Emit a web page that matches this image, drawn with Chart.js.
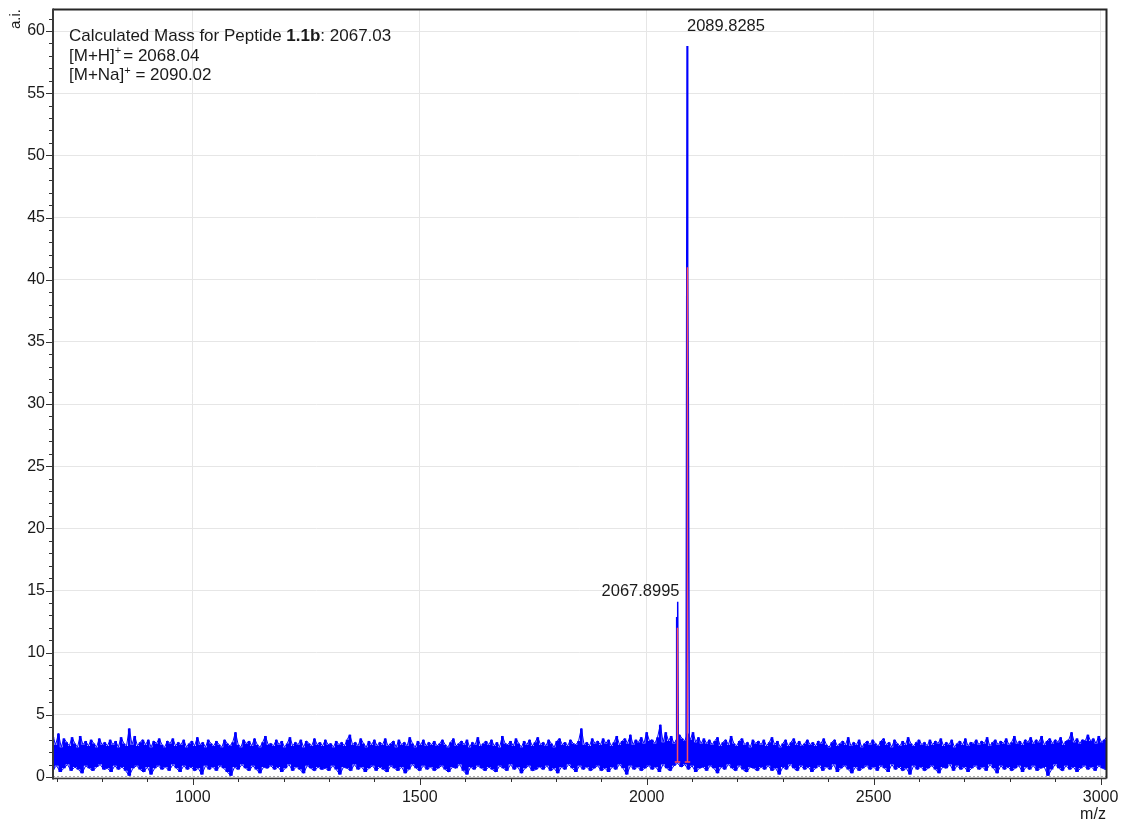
<!DOCTYPE html>
<html>
<head>
<meta charset="utf-8">
<title>MALDI-TOF spectrum – Peptide 1.1b</title>
<script src="https://cdn.jsdelivr.net/npm/chart.js@4.4.1/dist/chart.umd.min.js"></script>
<style>
  html, body { margin: 0; padding: 0; background: #ffffff; }
  #wrap { width: 1127px; height: 829px; }
</style>
</head>
<body>
<div id="wrap"><canvas id="spectrum" width="1127" height="829"></canvas></div>
<script>
// ---- spectrum range (m/z) ----
const mzMin = 692;
const mzMax = 3013;

// ---- baseline noise: upper and lower envelope of the trace, sampled every few m/z ----
const noiseStart = 692;
const upperStep = 6;
const noiseUpper = [
  3.2,2.6,3.5,2.4,3.1,2.8,2.5,3.2,2.7,2.4,3.3,2.6,2.9,2.5,3.0,2.7,2.4,3.1,2.6,2.8,
  2.5,3.0,2.6,2.9,2.4,3.2,2.7,2.5,3.9,2.6,3.3,2.5,2.8,3.0,2.6,3.0,2.4,2.9,2.7,3.1,
  2.6,2.4,2.9,2.7,3.1,2.5,2.8,2.6,3.0,2.4,2.7,2.9,2.5,3.2,2.6,2.8,2.4,3.0,2.7,2.5,
  2.9,2.6,2.4,3.0,2.7,2.5,2.8,3.6,2.6,2.4,3.0,2.7,2.9,2.5,3.1,2.6,2.4,2.8,3.3,2.6,
  2.7,2.5,3.0,2.6,2.9,2.4,2.7,3.2,2.5,2.8,2.6,3.0,2.4,2.9,2.7,2.5,3.1,2.6,2.8,2.5,
  3.0,2.6,2.7,2.4,2.9,2.6,2.8,2.5,3.0,3.4,2.6,2.8,2.5,3.1,2.7,2.4,2.9,2.6,3.0,2.5,
  2.8,2.6,3.1,2.5,2.7,2.9,2.4,3.0,2.6,2.8,2.5,3.2,2.7,2.4,2.9,2.6,3.0,2.5,2.8,2.6,
  2.9,2.5,2.7,3.0,2.6,2.4,2.8,3.1,2.5,2.7,2.9,2.6,3.0,2.4,2.8,2.6,3.2,2.5,2.7,2.9,
  2.6,3.0,2.5,2.8,2.4,3.3,2.7,2.6,2.9,2.5,3.1,2.7,2.4,2.9,2.6,3.0,2.5,2.8,3.2,2.6,
  2.8,2.5,3.0,2.7,2.4,2.9,3.1,2.6,2.8,2.5,3.0,2.7,2.6,2.9,3.9,2.6,2.8,2.5,3.1,2.7,
  2.9,2.6,3.1,2.7,3.0,2.5,2.8,3.3,2.6,2.9,3.1,2.7,3.4,2.6,3.0,2.8,3.2,2.7,3.6,2.9,
  3.0,2.7,3.2,4.2,2.8,3.6,2.9,3.3,2.7,3.0,3.4,3.1,2.9,3.5,3.0,3.6,2.8,3.2,2.7,3.1,
  2.7,3.0,2.6,2.9,3.2,2.5,2.8,3.0,2.6,3.3,2.7,2.5,2.9,3.1,2.6,2.8,2.4,3.0,2.7,2.9,
  2.6,3.0,2.5,2.8,3.2,2.6,2.9,2.4,2.7,3.0,2.5,2.8,3.1,2.6,2.9,2.5,2.7,3.0,2.6,2.8,
  2.5,2.9,2.7,3.1,2.6,2.4,2.8,3.0,2.5,2.7,2.9,2.6,3.2,2.5,2.8,2.6,3.0,2.4,2.7,2.9,
  2.6,3.0,2.7,2.5,2.9,3.1,2.6,2.8,2.4,3.0,2.7,2.5,2.9,2.6,3.2,2.7,2.5,2.8,3.0,2.6,
  2.8,2.5,3.0,2.6,2.9,2.7,3.1,2.5,2.8,2.6,3.0,2.4,2.7,2.9,2.6,3.1,2.5,2.8,2.7,3.0,
  2.6,2.9,2.7,3.2,2.5,2.8,3.0,2.6,2.9,2.7,3.1,2.6,2.8,3.3,2.7,2.9,2.6,3.0,2.8,3.2,
  2.7,3.0,2.8,3.3,2.6,2.9,3.1,2.7,3.0,2.8,3.2,2.6,2.9,3.0,3.6,2.8,3.1,2.7,3.0,2.9,
  3.4,2.9,3.1,2.7,3.3,2.8,3.0,3.2
];
const lowerStep = 8;
const noiseLower = [
  0.6,0.9,0.4,0.7,1.0,0.5,0.8,0.6,0.3,0.9,0.7,0.5,0.8,1.0,0.6,
  0.7,0.4,0.9,0.6,0.8,0.5,0.1,0.7,0.9,0.6,0.4,0.8,0.2,0.7,0.9,
  0.6,0.8,0.5,1.0,0.7,0.4,0.9,0.6,0.8,0.5,0.7,0.2,0.9,0.6,0.8,
  0.5,0.9,0.7,0.4,0.1,0.8,0.6,1.0,0.7,0.5,0.9,0.6,0.3,0.8,0.7,
  0.9,0.6,0.8,0.4,0.7,1.0,0.5,0.8,0.6,0.3,0.9,0.7,0.5,0.8,0.6,
  0.7,0.5,0.9,0.6,0.2,0.8,0.7,0.5,1.0,0.6,0.8,0.4,0.7,0.9,0.5,
  0.8,0.6,0.4,0.9,0.7,0.5,0.8,0.3,0.6,1.0,0.7,0.5,0.9,0.6,0.8,
  0.5,0.7,0.9,0.6,0.4,0.8,0.7,1.0,0.5,0.2,0.8,0.6,0.9,0.7,0.5,
  0.8,0.6,0.4,0.9,0.7,0.5,1.0,0.6,0.8,0.3,0.7,0.9,0.5,0.6,0.8,
  0.6,0.9,0.5,0.7,0.3,0.8,0.6,1.0,0.7,0.4,0.9,0.6,0.8,0.5,0.7,
  0.9,0.5,0.7,0.4,0.8,0.6,1.0,0.7,0.2,0.9,0.6,0.8,0.5,0.7,0.9,
  0.6,0.8,0.4,1.0,0.7,0.5,0.9,1.1,0.8,1.0,0.6,0.9,0.4,0.7,0.8,
  0.5,0.9,0.7,0.3,0.8,0.6,1.0,0.7,0.5,0.9,0.6,0.4,0.8,0.7,0.5,
  0.8,0.6,0.9,0.5,0.7,0.2,0.8,0.6,1.0,0.7,0.5,0.9,0.6,0.8,0.4,
  0.7,0.9,0.5,0.8,0.6,1.0,0.4,0.7,0.9,0.6,0.3,0.8,0.5,0.7,0.9,
  0.6,0.8,0.5,0.9,0.7,0.4,1.0,0.6,0.8,0.5,0.7,0.2,0.9,0.6,0.8,
  0.5,0.7,0.9,0.6,0.3,0.8,0.7,1.0,0.5,0.9,0.6,0.8,0.4,0.7,0.9,
  0.6,0.8,0.5,1.0,0.7,0.3,0.9,0.6,0.8,0.5,0.7,0.9,0.4,0.8,0.6,
  0.9,0.5,0.7,0.8,0.1,0.6,1.0,0.7,0.5,0.9,0.6,0.8,0.4,0.7,0.9,
  0.6,0.8,0.5,0.9,0.7,0.6
];

// ---- [M+H]+ peak profile ----
const peakHMz  = [2065.0, 2066.0, 2066.9, 2067.8995, 2068.7, 2069.8];
const peakHInt = [1.6, 12.8, 12.8, 14.1, 14.1, 1.4];

// ---- [M+Na]+ peak profile ----
const peakNaMz  = [2086.8, 2088.9, 2089.8285, 2090.8, 2091.6, 2092.8, 2093.8];
const peakNaInt = [1.8, 58.8, 58.8, 41.0, 31.7, 31.7, 1.5];

// ---- picked peaks (labels and centroid markers) ----
const pickedMz     = [2067.8995, 2089.8285];
const pickedInt    = [14.1, 58.8];
const centroidTop  = [12.0, 41.0];
const centroidBase = 1.2;
const capHalfWidth = 6;

// ---- axes ----
const xMajorTicks = [1000, 1500, 2000, 2500, 3000];
const yMajorTicks = [0, 5, 10, 15, 20, 25, 30, 35, 40, 45, 50, 55, 60];
const xMinorStep = 100;
const yMinorStep = 1;
const yMax = 61.73;

// ---- header text ----
const compoundName = '1.1b';
const calcMass = '2067.03';
const mhValue = '2068.04';
const mnaValue = '2090.02';

const FONT = '"Liberation Sans", Arial, Helvetica, sans-serif';
const BLUE = '#0000ff';

const xy = (xs, ys) => xs.map((x, i) => ({ x, y: ys[i] }));
const upperPts = noiseUpper.map((v, i) => ({ x: noiseStart + i * upperStep, y: v }));
const lowerPts = noiseLower.map((v, i) => ({ x: noiseStart + i * lowerStep, y: v }));
const centroidSets = pickedMz.map((mz, i) => [
  { x: mz - capHalfWidth, y: centroidBase },
  { x: mz + capHalfWidth, y: centroidBase },
  { x: mz, y: centroidBase },
  { x: mz, y: centroidTop[i] }
]);

const lineBase = { pointRadius: 0, borderWidth: 1, tension: 0, fill: false, borderColor: BLUE };

// frame, tick marks, axis titles and text annotations
const spectrumDecor = {
  id: 'spectrumDecor',
  afterDraw(chart) {
    const { ctx, chartArea: a, scales: { x, y } } = chart;
    const axisY = a.bottom + 1.5;
    ctx.save();

    // top and right frame
    ctx.strokeStyle = '#262626';
    ctx.lineWidth = 2;
    ctx.beginPath();
    ctx.moveTo(a.left, a.top);
    ctx.lineTo(a.right, a.top);
    ctx.lineTo(a.right, axisY);
    ctx.stroke();

    // axis lines
    ctx.strokeStyle = '#3a3a3a';
    ctx.lineWidth = 2;
    ctx.beginPath();
    ctx.moveTo(a.left, a.top - 1);
    ctx.lineTo(a.left, axisY + 1);
    ctx.stroke();
    ctx.lineWidth = 1.5;
    ctx.beginPath();
    ctx.moveTo(a.left, axisY);
    ctx.lineTo(a.right, axisY);
    ctx.stroke();

    // y tick marks
    ctx.lineWidth = 1;
    ctx.strokeStyle = '#333';
    for (let v = 0; v <= yMax; v += yMinorStep) {
      const py = Math.round(y.getPixelForValue(v)) + 0.5;
      const len = yMajorTicks.includes(v) ? 6 : 3;
      ctx.beginPath();
      ctx.moveTo(a.left - 1 - len, py);
      ctx.lineTo(a.left - 1, py);
      ctx.stroke();
    }
    // x tick marks
    for (let v = Math.ceil(mzMin / xMinorStep) * xMinorStep; v <= mzMax; v += xMinorStep) {
      const px = Math.round(x.getPixelForValue(v)) + 0.5;
      const len = xMajorTicks.includes(v) ? 6 : 3;
      ctx.beginPath();
      ctx.moveTo(px, axisY + 0.5);
      ctx.lineTo(px, axisY + 0.5 + len);
      ctx.stroke();
    }

    // axis titles
    ctx.fillStyle = '#1a1a1a';
    ctx.font = '15px ' + FONT;
    ctx.textBaseline = 'middle';
    ctx.save();
    ctx.translate(16, 19);
    ctx.rotate(-Math.PI / 2);
    ctx.textAlign = 'center';
    ctx.fillText('a.i.', 0, 0);
    ctx.restore();
    ctx.textAlign = 'center';
    ctx.font = '16px ' + FONT;
    ctx.fillText('m/z', 1093, 815);

    // peak labels
    ctx.font = '16.5px ' + FONT;
    ctx.textAlign = 'left';
    ctx.fillText(pickedMz[1].toFixed(4), x.getPixelForValue(pickedMz[1]) - 0.5, y.getPixelForValue(pickedInt[1]) - 19);
    ctx.textAlign = 'right';
    ctx.fillText(pickedMz[0].toFixed(4), x.getPixelForValue(pickedMz[0]) + 2, y.getPixelForValue(pickedInt[0]) - 10);

    // header annotation
    const reg = '17px ' + FONT;
    const bold = 'bold 17px ' + FONT;
    const sup = '11px ' + FONT;
    const tx = a.left + 16;
    const runs = (parts, py) => {
      let cx = tx;
      ctx.textAlign = 'left';
      for (const [text, font, dy, gap] of parts) {
        ctx.font = font;
        ctx.fillText(text, cx, py + dy);
        cx += ctx.measureText(text).width + (gap || 0);
      }
    };
    runs([['Calculated Mass for Peptide ', reg, 0], [compoundName, bold, 0], [': ' + calcMass, reg, 0]], 36);
    runs([['[M+H]', reg, 0], ['+', sup, -5, 2], ['= ' + mhValue, reg, 0]], 56);
    runs([['[M+Na]', reg, 0], ['+', sup, -5], [' = ' + mnaValue, reg, 0]], 75.5);

    ctx.restore();
  }
};

Chart.defaults.font.family = FONT;
Chart.defaults.font.size = 16;
Chart.defaults.color = '#1a1a1a';

const CENTROID_RED = '#ff4d5a';

new Chart(document.getElementById('spectrum'), {
  type: 'line',
  data: {
    datasets: [
      // solid body of the noise band
      { ...lineBase, data: upperPts, stepped: 'middle', borderWidth: 0, fill: '+1', backgroundColor: BLUE, order: 4 },
      { ...lineBase, data: lowerPts, stepped: 'middle', borderWidth: 0, order: 4 },
      // thin trace along the noise fringes
      { ...lineBase, data: upperPts, order: 3 },
      { ...lineBase, data: lowerPts, order: 3 },
      // peaks
      { ...lineBase, data: xy(peakHMz, peakHInt), borderWidth: 1.5, order: 2 },
      { ...lineBase, data: xy(peakNaMz, peakNaInt), borderWidth: 1.5, order: 2 },
      // centroid markers
      { ...lineBase, data: centroidSets[0], borderColor: CENTROID_RED, borderWidth: 1.5, order: 1 },
      { ...lineBase, data: centroidSets[1], borderColor: CENTROID_RED, borderWidth: 1.5, order: 1 },
      // zero line
      { ...lineBase, data: [{ x: mzMin, y: 0 }, { x: mzMax, y: 0 }], borderColor: '#555', borderDash: [2, 2], order: 5 }
    ]
  },
  options: {
    responsive: false,
    animation: false,
    events: [],
    layout: { padding: { left: 0, right: 20.5, top: 9.5, bottom: 0 } },
    plugins: { legend: { display: false }, tooltip: { enabled: false }, title: { display: false } },
    scales: {
      x: {
        type: 'linear',
        min: mzMin,
        max: mzMax,
        afterBuildTicks: s => { s.ticks = xMajorTicks.map(v => ({ value: v })); },
        afterFit: s => { s.height = 52; s.paddingLeft = 0; s.paddingRight = 0; },
        ticks: { callback: v => String(v), padding: 11, maxRotation: 0, autoSkip: false, color: '#1a1a1a' },
        grid: { color: '#e6e6e6', lineWidth: 1, drawTicks: false },
        border: { display: false }
      },
      y: {
        type: 'linear',
        min: 0,
        max: yMax,
        afterBuildTicks: s => { s.ticks = yMajorTicks.map(v => ({ value: v })); },
        afterFit: s => { s.width = 53; s.paddingTop = 0; s.paddingBottom = 0; },
        ticks: { callback: v => String(v), padding: 8, autoSkip: false, color: '#1a1a1a' },
        grid: { color: '#e6e6e6', lineWidth: 1, drawTicks: false },
        border: { display: false }
      }
    }
  },
  plugins: [spectrumDecor]
});
</script>
</body>
</html>
